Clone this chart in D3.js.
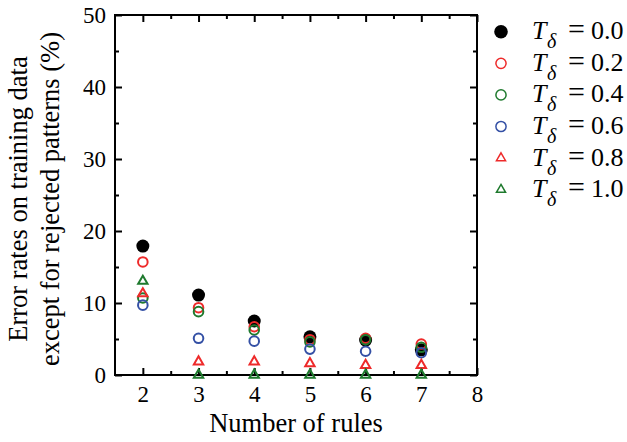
<!DOCTYPE html>
<html><head><meta charset="utf-8">
<script src="https://cdn.jsdelivr.net/npm/d3@7"></script>
<style>
html,body{margin:0;padding:0;background:#fff;}
svg, svg text, svg tspan{font-family:"Liberation Serif","Times New Roman",serif !important;}
</style></head>
<body>
<svg id="chart" width="627" height="442"></svg>
<script>
const rules = [2, 3, 4, 5, 6, 7];
const seriesLabels = ["0.0", "0.2", "0.4", "0.6", "0.8", "1.0"];
const t00 = [17.9, 11.1, 7.5, 5.3, 4.85, 3.5];
const t02 = [15.7, 9.35, 6.7, 4.9, 5.1, 4.3];
const t04 = [10.7, 8.8, 6.25, 4.6, 4.9, 3.85];
const t06 = [9.7, 5.1, 4.7, 3.6, 3.3, 3.1];
const t08 = [11.3, 1.85, 1.85, 1.6, 1.35, 1.35];
const t10 = [13.05, 0, 0, 0, 0, 0];
const xTicks = [2, 3, 4, 5, 6, 7, 8];
const xMinor = [2.5, 3.5, 4.5, 5.5, 6.5, 7.5];
const yTicks = [0, 10, 20, 30, 40, 50];
const yMinor = [5, 15, 25, 35, 45];

const styles = [
  {shape: "circle", fill: "#000", stroke: "#000"},
  {shape: "circle", fill: "none", stroke: "#ee2a2a"},
  {shape: "circle", fill: "none", stroke: "#1f7a2e"},
  {shape: "circle", fill: "none", stroke: "#3450a5"},
  {shape: "triangle", fill: "none", stroke: "#ee2a2a"},
  {shape: "triangle", fill: "none", stroke: "#1f7a2e"}
];
const allSeries = [t00, t02, t04, t06, t08, t10];

const FONT = "'Liberation Serif', 'Times New Roman', serif";
const svg = d3.select("#chart");
const L = 115, R = 477, T = 15, B = 375;
const x = d3.scaleLinear().domain([1.5, 8]).range([L, R]);
const y = d3.scaleLinear().domain([0, 50]).range([B, T]);

const sw = 2;
function styleAxis(g) {
  g.attr("font-family", null).attr("font-size", null);
  g.selectAll("path.domain").remove();
  g.selectAll("line").attr("stroke", "#000").attr("stroke-width", sw);
  g.selectAll("text").attr("fill", "#000").style("font-size", "23px").style("font-family", FONT);
}
// minor ticks
svg.append("g").attr("transform", `translate(0,${B})`)
  .call(d3.axisBottom(x).tickValues(xMinor).tickSize(-4).tickFormat("")).call(styleAxis);
svg.append("g").attr("transform", `translate(0,${T})`)
  .call(d3.axisTop(x).tickValues(xMinor).tickSize(-4).tickFormat("")).call(styleAxis);
svg.append("g").attr("transform", `translate(${L},0)`)
  .call(d3.axisLeft(y).tickValues(yMinor).tickSize(-4).tickFormat("")).call(styleAxis);
svg.append("g").attr("transform", `translate(${R},0)`)
  .call(d3.axisRight(y).tickValues(yMinor).tickSize(-4).tickFormat("")).call(styleAxis);
// major ticks
svg.append("g").attr("transform", `translate(0,${B})`)
  .call(d3.axisBottom(x).tickValues(xTicks).tickSize(-7).tickPadding(11).tickFormat(d3.format("d"))).call(styleAxis);
svg.append("g").attr("transform", `translate(0,${T})`)
  .call(d3.axisTop(x).tickValues(xTicks).tickSize(-7).tickFormat("")).call(styleAxis);
svg.append("g").attr("transform", `translate(${L},0)`)
  .call(d3.axisLeft(y).tickValues(yTicks).tickSize(-7).tickPadding(9).tickFormat(d3.format("d"))).call(styleAxis);
svg.append("g").attr("transform", `translate(${R},0)`)
  .call(d3.axisRight(y).tickValues(yTicks).tickSize(-7).tickFormat("")).call(styleAxis);

// frame
svg.append("rect").attr("x", L).attr("y", T).attr("width", R - L).attr("height", B - T)
  .attr("fill", "none").attr("stroke", "#000").attr("stroke-width", sw);

function drawMarker(g, st, cx, cy, legend) {
  const w = legend ? 1.5 : 2;
  if (st.shape === "circle") {
    const filled = st.fill !== "none";
    g.append("circle").attr("cx", cx).attr("cy", cy)
      .attr("r", filled ? (legend ? 6.8 : 6.5) : (legend ? 5.1 : 4.8))
      .attr("fill", st.fill).attr("stroke", filled ? "none" : st.stroke)
      .attr("stroke-width", w);
  } else {
    g.append("path").attr("d", d3.symbol(d3.symbolTriangle, legend ? 36 : 38)())
      .attr("transform", `translate(${cx},${cy})`)
      .attr("fill", "none").attr("stroke", st.stroke).attr("stroke-width", w)
      .attr("stroke-linejoin", "miter");
  }
}

const pts = svg.append("g");
allSeries.forEach((vals, si) => {
  const st = styles[si];
  const g = pts.append("g");
  vals.forEach((v, i) => drawMarker(g, st, x(rules[i]), y(v), false));
});

// legend
const leg = svg.append("g");
const legY0 = 31.7, legDy = 31.6;
seriesLabels.forEach((lab, i) => {
  const cy = legY0 + i * legDy;
  drawMarker(leg, styles[i], 501, cy, true);
  const base = cy + 7.5;
  const t = leg.append("text").attr("y", base).attr("fill", "#000")
    .style("font-size", "26px").style("font-family", FONT);
  t.append("tspan").attr("x", 532).style("font-style", "italic").text("T");
  t.append("tspan").attr("x", 547).attr("y", base + 9).style("font-style", "italic").style("font-size", "20px").text("δ");
  t.append("tspan").attr("x", 568).attr("y", base).style("font-size", "30px").text("=");
  t.append("tspan").attr("x", 591).attr("y", base).text(lab);
});

// axis titles
svg.append("text").attr("x", (L + R) / 2).attr("y", 432)
  .attr("text-anchor", "middle").style("font-size", "26.5px").style("font-family", FONT).attr("fill", "#000")
  .text("Number of rules");
const yl = svg.append("text").attr("transform", "translate(27,199) rotate(-90)")
  .attr("text-anchor", "middle").style("font-size", "26.5px").style("font-family", FONT).attr("fill", "#000");
yl.append("tspan").attr("x", 0).attr("y", 0).text("Error rates on training data");
yl.append("tspan").attr("x", 0).attr("y", 32).text("except for rejected patterns (%)");
</script>
</body></html>
